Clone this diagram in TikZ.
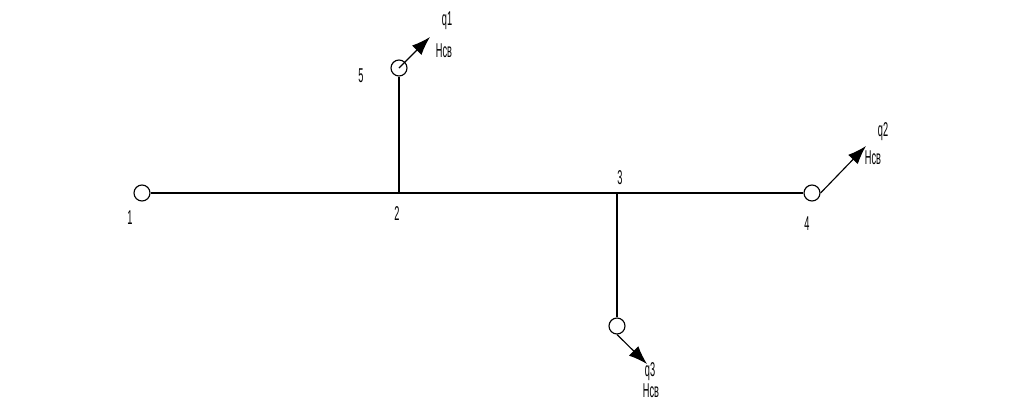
\documentclass[tikz,border=0pt]{standalone}
\usepackage{fontspec}
\setmainfont{Liberation Sans}
\usetikzlibrary{arrows.meta}
\tikzset{
  point/.style={draw,circle,minimum size=12pt,inner sep=0pt,line width=0.85pt},
  lbl/.style={inner sep=0pt,xscale=0.46,font=\fontsize{15}{15}\selectfont},
  pipe/.style={line width=0.85pt},
  flow/.style={line width=0.85pt,-{Latex[length=14pt,width=10pt]}}
}
\begin{document}
\begin{tikzpicture}[x=0.75pt,y=0.75pt,yscale=-1,xscale=1]
\useasboundingbox (0,0) rectangle (1024,412);

% Junctions
\coordinate (j2) at (399,193);
\coordinate (j3) at (617,193);
% Arrow ends
\coordinate (e5) at (430,37);
\coordinate (e4) at (866,146);
\coordinate (e6) at (647,364);

% Points
\node [point] (n1) at (142,193) {};
\node [point] (n5) at (399,68) {};
\node [point] (n4) at (812,193) {};
\node [point] (n6) at (617,326) {};

% Pipes
\draw [pipe] (n1) -- (j2) -- (j3) -- (n4);
\draw [pipe] (j2) -- (n5);
\draw [pipe] (j3) -- (n6);

% Arrows
\draw [flow] (n5.center) -- (e5);
\draw [flow] (n4.east) -- (e4);
\draw [flow] (n6.south) -- (e6);

% Text Node
\node [lbl] (t1) at (130,218) {1};
\node [lbl] (t2) at (397,214) {2};
\node [lbl] (t3) at (620,178) {3};
\node [lbl] (t4) at (807,224) {4};
\node [lbl] (t5) at (361,76) {5};
\node [lbl] (q1) at (447,21) {q1};
\node [lbl] (q2) at (883,132) {q2};
\node [lbl] (q3) at (650,372) {q3};
\node [lbl] (h1) at (444,51) {Нсв};
\node [lbl] (h2) at (873,158) {Нсв};
\node [lbl] (h3) at (651,391) {Нсв};

\end{tikzpicture}
\end{document}
